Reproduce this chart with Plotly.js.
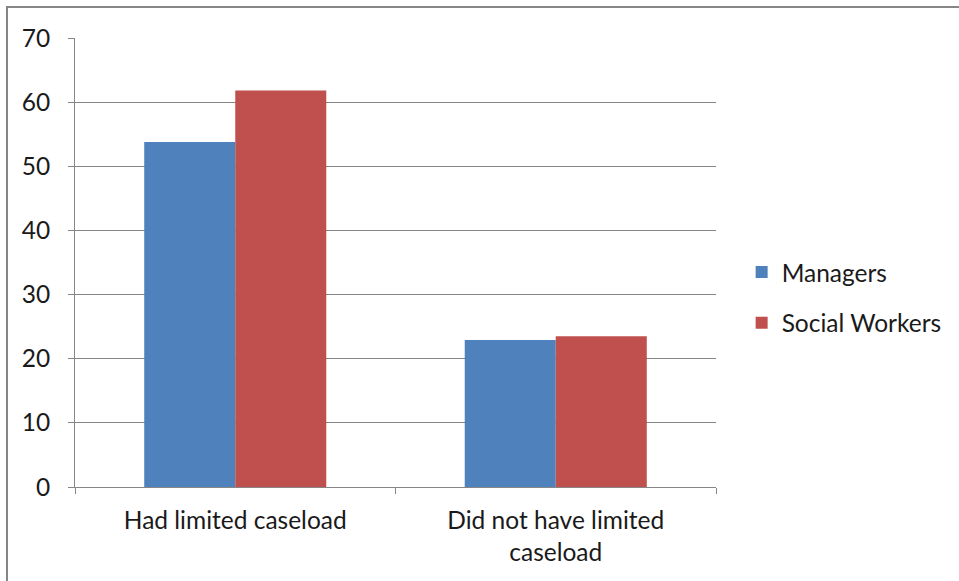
<!DOCTYPE html>
<html>
<head>
<meta charset="utf-8">
<script src="https://cdn.plot.ly/plotly-3.0.1.min.js"></script>
<style>
  html, body { margin: 0; padding: 0; background: #ffffff; }
  #chart { width: 959px; height: 581px; position: absolute; left: 0; top: 0; }
  #frame { position: absolute; left: 6px; top: 6px; width: 1200px; height: 1200px;
           border-top: 2px solid #868686; border-left: 2px solid #868686; pointer-events: none; }
</style>
</head>
<body>
<div id="chart"></div>
<div id="frame"></div>
<script>
const categories = ["Had limited caseload", "Did not have limited<br>caseload"];
const seriesNames = ["Managers", "Social Workers"];
const managers = [53.8, 22.9];
const socialWorkers = [61.8, 23.5];
const yTicks = [0, 10, 20, 30, 40, 50, 60, 70];

const FONT = "Lato, 'Open Sans', sans-serif";
const FS = 24.5;

const traces = [
  { type: "bar", name: seriesNames[0], x: categories, y: managers, legendgroup: "g1",
    marker: { color: "#4F81BD" }, hoverinfo: "y" },
  { type: "bar", name: seriesNames[1], x: categories, y: socialWorkers, legendgroup: "g2",
    marker: { color: "#C0504D" }, hoverinfo: "y" }
];

const layout = {
  width: 959, height: 581,
  margin: { l: 75, r: 243, t: 38, b: 94, autoexpand: false },
  paper_bgcolor: "#ffffff", plot_bgcolor: "#ffffff",
  font: { family: FONT, size: FS, color: "#1a1a1a" },
  barmode: "group",
  bargap: 0.432,
  bargroupgap: 0,
  showlegend: true,
  legend: {
    x: 1.04, xanchor: "left", y: 0.422, yanchor: "middle",
    font: { family: FONT, size: FS, color: "#1a1a1a" },
    traceorder: "grouped", tracegroupgap: 16, bgcolor: "rgba(0,0,0,0)"
  },
  xaxis: {
    type: "category",
    showline: true, linecolor: "#868686", linewidth: 1,
    ticks: "outside", tickson: "boundaries", ticklen: 6, tickcolor: "#868686",
    showgrid: false, zeroline: false,
    ticklabelstandoff: 12,
    tickfont: { family: FONT, size: FS, color: "#1a1a1a" }
  },
  yaxis: {
    range: [0, 70], tickvals: yTicks, ticktext: yTicks.map(String),
    showline: true, linecolor: "#868686", linewidth: 1,
    ticks: "outside", ticklen: 6, tickcolor: "#868686",
    showgrid: true, gridcolor: "#868686", gridwidth: 1,
    zeroline: false,
    ticklabelstandoff: 13,
    tickfont: { family: FONT, size: FS, color: "#1a1a1a" }
  }
};

Plotly.newPlot("chart", traces, layout, { displayModeBar: false, staticPlot: true });
</script>
</body>
</html>
